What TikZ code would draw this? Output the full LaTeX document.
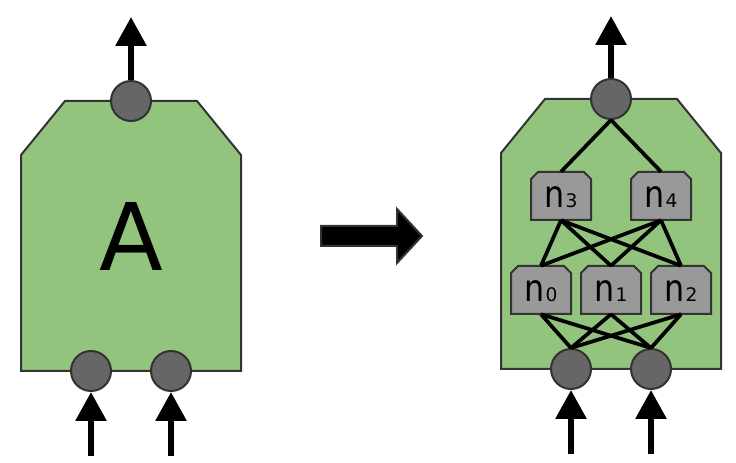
\documentclass[tikz,border=0pt]{standalone}
\usepackage{fontspec}
\usepackage{graphicx}
\setmainfont{DejaVu Sans}
\usetikzlibrary{arrows.meta}
\definecolor{blockgreen}{RGB}{147,196,125}
\definecolor{nodegray}{RGB}{153,153,153}
\definecolor{portgray}{RGB}{102,102,102}
\definecolor{edgedark}{RGB}{51,51,51}
\newcommand{\nlab}[1]{\scalebox{0.85}[1]{\fontsize{28}{28}\selectfont n}\kern0.8pt{\fontsize{14}{14}\selectfont #1}}
\newcommand{\neuron}[4]{%
  \filldraw[neuronshape] (#2-30,#3+24) -- (#2-30,#3-17) -- (#2-23,#3-24) -- (#2+23,#3-24) -- (#2+30,#3-17) -- (#2+30,#3+24) -- cycle;
  \node[neuronbox] (#1) at (#2,#3) {};
  \node[neuronlabel] (#1label) at (#2,#3+1) {\nlab{#4}};
}
\begin{document}
\begin{tikzpicture}[x=0.75pt,y=-0.75pt,
  block/.style={fill=blockgreen,draw=edgedark,line width=1.5pt,line join=miter},
  port/.style={circle,fill=portgray,draw=edgedark,line width=1.5pt,minimum size=30pt,inner sep=0pt},
  neuronshape/.style={fill=nodegray,draw=edgedark,line width=1.5pt},
  neuronbox/.style={rectangle,minimum width=45pt,minimum height=36pt,inner sep=0pt},
  neuronlabel/.style={inner sep=0pt},
  wire/.style={line width=2.8pt,black},
  flow/.style={line width=4.5pt,black,-{Triangle[length=21.75pt,width=22.5pt]}},
  bigarrow/.style={fill=black,draw=edgedark,line width=1.5pt},
  biglabel/.style={font=\fontsize{70}{70}\selectfont,inner sep=0pt}]
\useasboundingbox (0,0) rectangle (736,463);

% left block
\filldraw[block] (21,371) -- (21,155) -- (65,101) -- (197,101) -- (241,155) -- (241,371) -- cycle;
\node[biglabel] (labelA) at (131,236) {A};
\coordinate (outA) at (131,17);
\coordinate (srcA1) at (91,456);
\coordinate (srcA2) at (171,456);
\node[port] (pA) at (131,101) {};
\node[port] (inA1) at (91,371) {};
\node[port] (inA2) at (171,371) {};
\draw[flow] (pA.north) -- (outA);
\draw[flow] (srcA1) -- (inA1.south);
\draw[flow] (srcA2) -- (inA2.south);

% middle arrow
\filldraw[bigarrow] (321,226) -- (397,226) -- (397,209) -- (422,236) -- (397,263) -- (397,246) -- (321,246) -- cycle;

% right block
\filldraw[block] (501,369) -- (501,153) -- (545,99) -- (677,99) -- (721,153) -- (721,369) -- cycle;
\neuron{n3}{561}{196}{3}
\neuron{n4}{661}{196}{4}
\neuron{n0}{541}{290}{0}
\neuron{n1}{611}{290}{1}
\neuron{n2}{681}{290}{2}
\node[port] (pB) at (611,99) {};
\node[port] (inB1) at (571,369) {};
\node[port] (inB2) at (651,369) {};
\coordinate (outB) at (611,16);
\coordinate (srcB1) at (571,454);
\coordinate (srcB2) at (651,454);

\draw[wire] (pB.south) -- (n3.north);
\draw[wire] (pB.south) -- (n4.north);
\foreach \u in {n3,n4}{
  \foreach \l in {n0,n1,n2}{
    \draw[wire] (\u.south) -- (\l.north);
  }
}
\foreach \l in {n0,n1,n2}{
  \draw[wire] (\l.south) -- (inB1.north);
  \draw[wire] (\l.south) -- (inB2.north);
}
\draw[flow] (pB.north) -- (outB);
\draw[flow] (srcB1) -- (inB1.south);
\draw[flow] (srcB2) -- (inB2.south);
\end{tikzpicture}
\end{document}
